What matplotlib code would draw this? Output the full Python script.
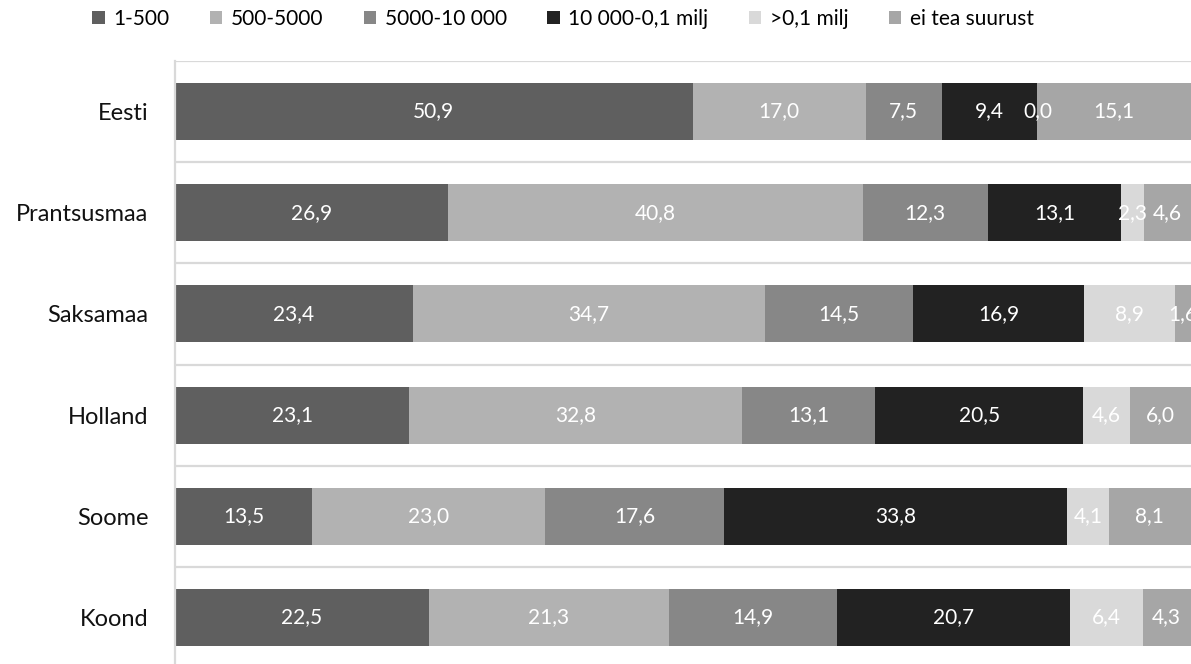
import matplotlib
matplotlib.use("Agg")
import matplotlib.pyplot as plt
from matplotlib.patches import Patch
import numpy as np

plt.rcParams['font.family'] = ['Lato', 'DejaVu Sans']

countries = ["Eesti", "Prantsusmaa", "Saksamaa", "Holland", "Soome", "Koond"]
series_names = ["1-500", "500-5000", "5000-10 000", "10 000-0,1 milj", ">0,1 milj", "ei tea suurust"]

size_1_500 = [50.9, 26.9, 23.4, 23.1, 13.5, 22.5]
size_500_5000 = [17.0, 40.8, 34.7, 32.8, 23.0, 21.3]
size_5000_10000 = [7.5, 12.3, 14.5, 13.1, 17.6, 14.9]
size_10000_01m = [9.4, 13.1, 16.9, 20.5, 33.8, 20.7]
size_over_01m = [0.0, 2.3, 8.9, 4.6, 4.1, 6.4]
size_unknown = [15.1, 4.6, 1.6, 6.0, 8.1, 4.3]

colors = ["#5f5f5f", "#b2b2b2", "#878787", "#222222", "#d9d9d9", "#a6a6a6"]

values = np.array([size_1_500, size_500_5000, size_5000_10000,
                   size_10000_01m, size_over_01m, size_unknown])
# 100% stacked: each row is scaled by its own total
shares = values / values.sum(axis=0) * 100

fig = plt.figure(figsize=(11.91, 6.64), dpi=100)
ax = fig.add_axes([175 / 1191, -4 / 664, 1016 / 1191, 607 / 664])

y = np.arange(len(countries))
left = np.zeros(len(countries))
for i, name in enumerate(series_names):
    ax.barh(y, shares[i], left=left, height=0.563, color=colors[i],
            label=name, zorder=2)
    for j in range(len(countries)):
        cx = left[j] + shares[i][j] / 2
        ax.text(cx, y[j], f"{values[i][j]:.1f}".replace(".", ","),
                ha="center", va="center", color="white", fontsize=15,
                zorder=3)
    left += shares[i]

ax.set_xlim(0, 100)
ax.set_ylim(len(countries) - 0.5, -0.5)
ax.set_yticks(y)
ax.set_yticklabels(countries, fontsize=17, color="#111111")
ax.set_yticks(np.arange(-0.5, len(countries), 1.0), minor=True)
ax.tick_params(axis="y", which="both", length=0, pad=19)
ax.set_xticks([])
ax.grid(axis="y", which="minor", color="#d9d9d9", linewidth=1.6, zorder=0)
ax.grid(axis="y", which="major", visible=False)
for side in ["top", "right", "bottom"]:
    ax.spines[side].set_visible(False)
ax.spines["left"].set_color("#d9d9d9")
ax.spines["left"].set_linewidth(1.6)

handles = [Patch(facecolor=c, edgecolor="none") for c in colors]
fig.legend(handles, series_names, loc="center", ncol=6, frameon=False,
           bbox_to_anchor=(563 / 1191, 1 - 19 / 664), fontsize=15,
           handlelength=0.6, handleheight=0.6, handletextpad=0.4,
           columnspacing=1.95)

fig.savefig("out.png", dpi=100)
